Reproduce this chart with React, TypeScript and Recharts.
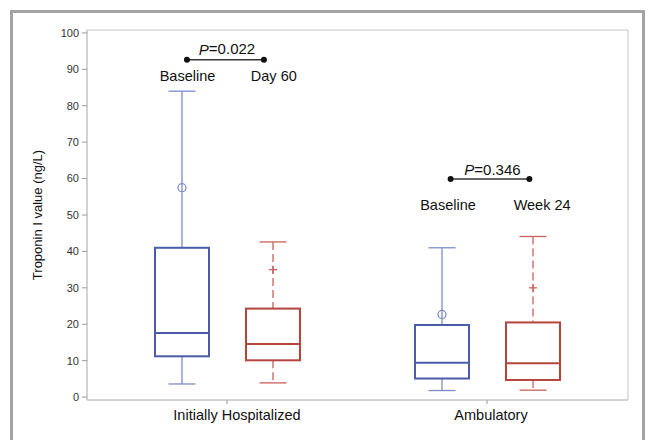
import React from "react";
import { ComposedChart, Bar, XAxis, YAxis, ReferenceLine, ReferenceDot, ReferenceArea } from "recharts";

// Groups on the x axis (placed at x = 1 and x = 2)
const groups = ["Initially Hospitalized", "Ambulatory"];
const groupPos = [1, 2];

// Baseline (blue) box statistics, ng/L
const baseMin = [3.6, 1.8];
const baseQ1 = [11.2, 5.1];
const baseMedian = [17.6, 9.4];
const baseQ3 = [41.0, 19.8];
const baseMax = [84.0, 41.0];
const baseMean = [57.5, 22.7];

// Follow-up (red) box statistics: Day 60 / Week 24
const followMin = [3.9, 1.9];
const followQ1 = [10.1, 4.7];
const followMedian = [14.6, 9.3];
const followQ3 = [24.3, 20.5];
const followMax = [42.6, 44.1];
const followMean = [35.0, 30.0];

const yTicks = [0, 10, 20, 30, 40, 50, 60, 70, 80, 90, 100];

// Annotation positions in axis units (1 = first group, 2 = second group)
const pTexts = ["0.022", "0.346"];
const pTextX = [1.0, 2.021];
const pTextY = [95.6, 62.6];
const bracketLeft = [0.846, 1.86];
const bracketRight = [1.142, 2.163];
const bracketY = [92.6, 59.9];
const timeLabels = [["Baseline", "Day 60"], ["Baseline", "Week 24"]];
const timeLabelX = [[0.848, 1.18], [1.85, 2.212]];
const timeLabelY = [88.2, 52.7];

const FONT = '"Liberation Sans", Arial, sans-serif';
const BLUE = "#4a5ca8";
const BLUE_LIGHT = "#7d8cc8";
const RED = "#b5453c";
const RED_LIGHT = "#c9615a";
const Y_DOMAIN = [-0.8, 100.8];
const X_DOMAIN = [1 - 140 / 260, 2 + 141 / 260];
const labelShift = [10, 4];

const chartData = groups.map((g, i) => ({
  group: g,
  pos: groupPos[i],
  base: { min: baseMin[i], q1: baseQ1[i], median: baseMedian[i], q3: baseQ3[i], max: baseMax[i], mean: baseMean[i] },
  follow: { min: followMin[i], q1: followQ1[i], median: followMedian[i], q3: followQ3[i], max: followMax[i], mean: followMean[i] },
}));

function makeBoxShape(key: "base" | "follow") {
  const stroke = key === "base" ? BLUE : RED;
  const light = key === "base" ? BLUE_LIGHT : RED_LIGHT;
  const dash = key === "base" ? undefined : "8 4";
  return (props: any) => {
    const { x, y, width, height, payload } = props;
    const s = payload[key];
    // map a value to pixels between the bar's ends (min at bottom, max at top)
    const top = y;
    const bottom = y + height;
    const py = (v: number) => bottom + ((v - s.min) / (s.max - s.min)) * (top - bottom);
    const cx = x + width / 2;
    const cap = width / 2;
    const yq1 = py(s.q1);
    const yq3 = py(s.q3);
    const ym = py(s.mean);
    return (
      <g>
        <line x1={cx} x2={cx} y1={py(s.max)} y2={yq3} stroke={light} strokeWidth={1.3} strokeDasharray={dash} />
        <line x1={cx} x2={cx} y1={yq1} y2={py(s.min)} stroke={light} strokeWidth={1.3} strokeDasharray={dash} />
        <line x1={cx - cap / 2} x2={cx + cap / 2} y1={py(s.max)} y2={py(s.max)} stroke={light} strokeWidth={1.3} />
        <line x1={cx - cap / 2} x2={cx + cap / 2} y1={py(s.min)} y2={py(s.min)} stroke={light} strokeWidth={1.3} />
        <rect x={x} y={yq3} width={width} height={yq1 - yq3} fill="none" stroke={stroke} strokeWidth={2} />
        <line x1={x} x2={x + width} y1={py(s.median)} y2={py(s.median)} stroke={stroke} strokeWidth={2} />
        {key === "base" ? (
          <circle cx={cx} cy={ym} r={4} fill="none" stroke={light} strokeWidth={1.3} />
        ) : (
          <g stroke={light} strokeWidth={1.3}>
            <line x1={cx - 4} x2={cx + 4} y1={ym} y2={ym} />
            <line x1={cx} x2={cx} y1={ym - 4} y2={ym + 4} />
          </g>
        )}
      </g>
    );
  };
}

const CategoryTick = (props: any) => {
  const { x, y, payload, index } = props;
  const name = groups[groupPos.indexOf(payload.value)] ?? "";
  return (
    <text x={x + (labelShift[index] || 0)} y={y} dy="0.71em" textAnchor="middle" fontSize={14.5} fontFamily={FONT} fill="#111">
      {name}
    </text>
  );
};

const textShape = (label: React.ReactNode, size: number) => (p: any) => (
  <text x={p.cx} y={p.cy} textAnchor="middle" dominantBaseline="central" fontSize={size} fontFamily={FONT} fill="#111">
    {label}
  </text>
);

export default function App() {
  return (
    <div style={{ position: "absolute", left: 0, top: 0, width: 648, height: 440, background: "#fff", overflow: "hidden" }}>
      <div
        style={{
          position: "absolute",
          left: 10,
          top: 10,
          width: 629,
          height: 460,
          border: "3px solid #a3a3a3",
          background: "#fff",
        }}
      />
      <div style={{ position: "absolute", left: 0, top: 0 }}>
        <ComposedChart
          width={648}
          height={430}
          data={chartData}
          margin={{ top: 30, right: 20, left: 0, bottom: 0 }}
          barSize={54}
          barGap={37}
        >
          <XAxis
            dataKey="pos"
            type="number"
            domain={X_DOMAIN}
            allowDataOverflow
            ticks={groupPos}
            interval={0}
            height={30}
            axisLine={{ stroke: "#c4c4c4" }}
            tickLine={{ stroke: "#9a9a9a" }}
            tickSize={4}
            tickMargin={6}
            tick={<CategoryTick />}
          />
          <YAxis
            width={87}
            domain={Y_DOMAIN}
            ticks={yTicks}
            allowDataOverflow
            interval={0}
            axisLine={{ stroke: "#c4c4c4" }}
            tickLine={{ stroke: "#9a9a9a" }}
            tickSize={5}
            tickMargin={3}
            tick={{ fill: "#333", fontSize: 11, fontFamily: FONT }}
            label={{
              value: "Troponin I value (ng/L)",
              angle: -90,
              position: "insideLeft",
              offset: 37,
              style: { textAnchor: "middle", fill: "#111", fontSize: 13, fontFamily: FONT },
            }}
          />
          <ReferenceArea
            x1={X_DOMAIN[0]}
            x2={X_DOMAIN[1]}
            y1={Y_DOMAIN[0]}
            y2={Y_DOMAIN[1]}
            fill="none"
            stroke="#c4c4c4"
            strokeWidth={1}
            ifOverflow="visible"
          />
          <Bar dataKey={(d: any) => [d.base.min, d.base.max]} shape={makeBoxShape("base")} isAnimationActive={false} activeBar={false} />
          <Bar dataKey={(d: any) => [d.follow.min, d.follow.max]} shape={makeBoxShape("follow")} isAnimationActive={false} activeBar={false} />

          {pTexts.map((p, i) => (
            <ReferenceLine
              key={`br${i}`}
              segment={[{ x: bracketLeft[i], y: bracketY[i] }, { x: bracketRight[i], y: bracketY[i] }]}
              stroke="#333"
              strokeWidth={1.5}
              ifOverflow="visible"
            />
          ))}
          {pTexts.map((p, i) => (
            <ReferenceDot key={`dl${i}`} x={bracketLeft[i]} y={bracketY[i]} r={3} fill="#111" stroke="none" ifOverflow="visible" />
          ))}
          {pTexts.map((p, i) => (
            <ReferenceDot key={`dr${i}`} x={bracketRight[i]} y={bracketY[i]} r={3} fill="#111" stroke="none" ifOverflow="visible" />
          ))}
          {pTexts.map((p, i) => (
            <ReferenceDot
              key={`pt${i}`}
              x={pTextX[i]}
              y={pTextY[i]}
              r={0}
              ifOverflow="visible"
              shape={textShape(
                <>
                  <tspan fontStyle="italic">P</tspan>
                  {`=${p}`}
                </>,
                15
              )}
            />
          ))}
          {timeLabels.flatMap((pair, i) =>
            pair.map((t, j) => (
              <ReferenceDot
                key={`tl${i}-${j}`}
                x={timeLabelX[i][j]}
                y={timeLabelY[i]}
                r={0}
                ifOverflow="visible"
                shape={textShape(t, 14.5)}
              />
            ))
          )}
        </ComposedChart>
      </div>
    </div>
  );
}
